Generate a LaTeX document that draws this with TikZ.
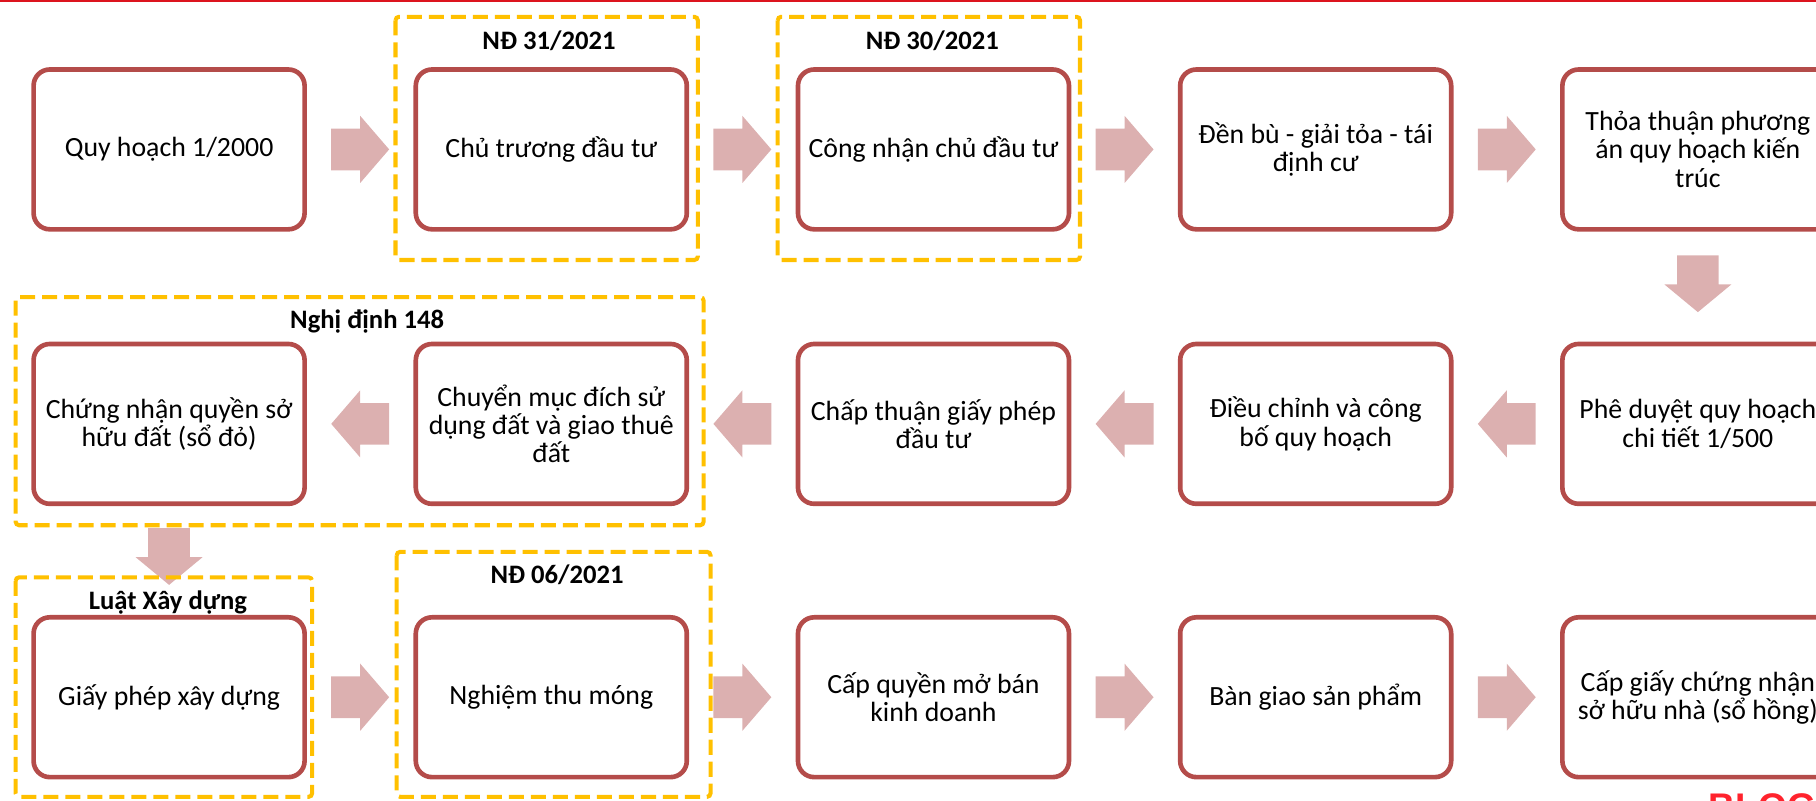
\documentclass[tikz,border=0pt]{standalone}
\usepackage{fontspec}
\setmainfont{Carlito}
\newfontfamily\blogfont{Liberation Sans}
\usetikzlibrary{calc}
\definecolor{boxred}{RGB}{180,76,74}
\definecolor{arrowpink}{RGB}{220,176,176}
\definecolor{dashyellow}{RGB}{255,192,0}
\definecolor{topred}{RGB}{220,20,30}
\definecolor{blogred}{RGB}{255,35,45}
\newcommand\rightblock[1]{\fill[arr] ([shift={(-25,-18)}]#1) -- ([shift={(0,-18)}]#1) -- ([shift={(0,-29)}]#1) -- ([shift={(25,0)}]#1) -- ([shift={(0,29)}]#1) -- ([shift={(0,18)}]#1) -- ([shift={(-25,18)}]#1) -- cycle;}
\newcommand\leftblock[1]{\fill[arr] ([shift={(25,-18)}]#1) -- ([shift={(0,-18)}]#1) -- ([shift={(0,-29)}]#1) -- ([shift={(-25,0)}]#1) -- ([shift={(0,29)}]#1) -- ([shift={(0,18)}]#1) -- ([shift={(25,18)}]#1) -- cycle;}
\newcommand\downblock[1]{\fill[arr] ([shift={(-18,-25)}]#1) -- ([shift={(18,-25)}]#1) -- ([shift={(18,0)}]#1) -- ([shift={(29,0)}]#1) -- ([shift={(0,24)}]#1) -- ([shift={(-29,0)}]#1) -- ([shift={(-18,0)}]#1) -- cycle;}
\begin{document}
\begin{tikzpicture}[x=0.5pt,y=-0.5pt,
  stepbox/.style={draw=boxred, line width=2pt, rounded corners=7pt, minimum width=117pt, minimum height=69pt, align=center, fill=white, inner sep=0pt, font=\fontsize{12}{12.2}\selectfont},
  legal/.style={draw=dashyellow, line width=1.75pt, dash pattern=on 6.5pt off 3pt, rounded corners=1.5pt},
  lbl/.style={font=\fontsize{11.5}{13}\selectfont\bfseries, anchor=base, inner sep=0pt},
  arr/.style={fill=arrowpink}]
\useasboundingbox (0,0) rectangle (1568,691);
\clip (0,0) rectangle (1568,691);
\fill[topred] (0,0) rectangle (1568,1.3);
% row 1
\node[stepbox] (a1) at (146,129) {Quy hoạch 1/2000};
\node[stepbox] (a2) at (476,129) {Chủ trương đầu tư};
\node[stepbox] (a3) at (806,129) {Công nhận chủ đầu tư};
\node[stepbox] (a4) at (1136,129) {Đền bù - giải tỏa - tái\\định cư};
\node[stepbox] (a5) at (1466,129) {Thỏa thuận phương\\án quy hoạch kiến\\trúc};
% row 2
\node[stepbox] (b1) at (146,366) {Chứng nhận quyền sở\\hữu đất (sổ đỏ)};
\node[stepbox] (b2) at (476,366) {Chuyển mục đích sử\\dụng đất và giao thuê\\đất};
\node[stepbox] (b3) at (806,366) {Chấp thuận giấy phép\\đầu tư};
\node[stepbox] (b4) at (1136,366) {Điều chỉnh và công\\bố quy hoạch};
\node[stepbox] (b5) at (1466,366) {Phê duyệt quy hoạch\\chi tiết 1/500};
% row 3
\node[stepbox] (c1) at (146,602) {Giấy phép xây dựng};
\node[stepbox] (c2) at (476,602) {Nghiệm thu móng};
\node[stepbox] (c3) at (806,602) {Cấp quyền mở bán\\kinh doanh};
\node[stepbox] (c4) at (1136,602) {Bàn giao sản phẩm};
\node[stepbox] (c5) at (1466,602) {Cấp giấy chứng nhận\\sở hữu nhà (sổ hồng)};
% arrows
\foreach \p/\q in {a1/a2,a2/a3,a3/a4,a4/a5,c1/c2,c2/c3,c3/c4,c4/c5}{
  \coordinate (m) at ($(\p.east)!0.5!(\q.west)$);
  \rightblock{m}
}
\foreach \p/\q in {b1/b2,b2/b3,b3/b4,b4/b5}{
  \coordinate (m) at ($(\p.east)!0.5!(\q.west)$);
  \leftblock{m}
}
\coordinate (d1) at ($(a5.south)!0.5!(b5.north)+(0,-2)$);
\downblock{d1}
\coordinate (d2) at ($(b1.south)!0.5!(c1.north)+(0,-3)$);
\downblock{d2}
% legal frames
\draw[legal] (341.5,14.5) rectangle (602.5,224.5);
\draw[legal] (671.5,14.5) rectangle (932.5,224.5);
\draw[legal] (13.5,256.5) rectangle (607.5,453.5);
\draw[legal] (13.5,498.5) rectangle (269.5,688);
\draw[legal] (342.5,476.5) rectangle (613.5,688);
% labels
\node[lbl] (l1) at (474,43) {NĐ 31/2021};
\node[lbl] (l2) at (805,43) {NĐ 30/2021};
\node[lbl] (l3) at (317,284) {Nghị định 148};
\node[lbl] (l4) at (145,526) {Luật Xây dựng};
\node[lbl] (l5) at (481,504) {NĐ 06/2021};
\node[anchor=base west, inner sep=0pt, text=blogred, font=\blogfont\fontsize{16}{16}\selectfont\bfseries] (blog) at (1475,708) {BLOG};
\end{tikzpicture}
\end{document}
